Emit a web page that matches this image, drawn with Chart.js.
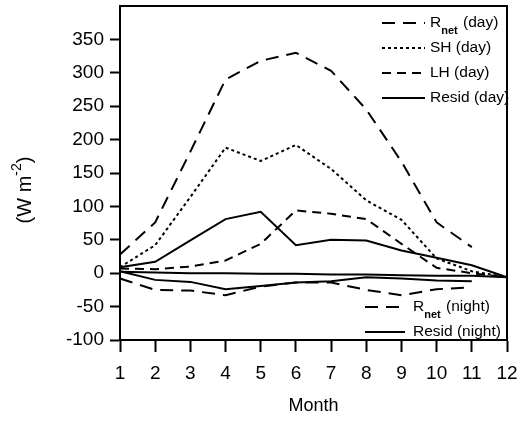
<!DOCTYPE html>
<html>
<head>
<meta charset="utf-8">
<script src="https://cdn.jsdelivr.net/npm/chart.js@4/dist/chart.umd.min.js"></script>
<style>
  html, body { margin: 0; padding: 0; background: #fff; }
  #wrap { width: 523px; height: 424px; }
</style>
</head>
<body>
<div id="wrap"><canvas id="fluxChart" width="523" height="424"></canvas></div>
<script>
// --- data (W m-2 per month) ---
const months = ['1', '2', '3', '4', '5', '6', '7', '8', '9', '10', '11', '12'];
const yTicks = [-100, -50, 0, 50, 100, 150, 200, 250, 300, 350];

const rnetDay = [28, 76, 182, 290, 318, 330, 303, 245, 167, 76, 39];
const shDay = [9, 42, 114, 188, 168, 192, 156, 109, 80, 22, 3, -6];
const lhDay = [7, 6, 10, 19, 44, 94, 89, 81, 44, 8, 0, -6];
const residDay = [9, 17, 49, 81, 92, 42, 50, 49, 34, 23, 12, -6];
const rnetNight = [-8, -25, -26, -33, -20, -14, -14, -25, -33, -24, -21];
const residNight = [3, -10, -13, -24, -19, -14, -12, -6, -8, -11, -12];
const flatLine = [2, 1, 0, 0, -1, -1, -2, -2, -3, -4, -4, -6]; // unlabeled line near zero

const FONT = "'Liberation Sans', Arial, sans-serif";

// line styles
const longDash = [13, 8];
const midDash = [9, 6];
const dotDash = [3, 3];

function series(label, data, dash, legendGroup) {
    return {
        label: label,
        data: data,
        borderColor: '#000',
        borderWidth: 2,
        borderDash: dash,
        pointRadius: 0,
        fill: false,
        tension: 0,
        legendGroup: legendGroup
    };
}

// legend drawn by hand: top-right group and bottom-right group, "net" as subscript
const handLegend = {
    id: 'handLegend',
    afterDraw(chart) {
        const ctx = chart.ctx;
        const area = chart.chartArea;
        ctx.save();
        // frame round the plot
        ctx.strokeStyle = '#000';
        ctx.lineWidth = 2;
        ctx.setLineDash([]);
        ctx.strokeRect(area.left, area.top, area.right - area.left, area.bottom - area.top);

        const groups = {
            top: { x0: 382, x1: 425, tx: 430, y: 23, step: 25 },
            bottom: { x0: 365, x1: 405, tx: 413, y: 307, step: 25 }
        };
        const counters = { top: 0, bottom: 0 };

        chart.data.datasets.forEach(ds => {
            if (!ds.legendGroup) return;
            const g = groups[ds.legendGroup];
            const y = g.y + counters[ds.legendGroup] * g.step;
            counters[ds.legendGroup]++;

            ctx.strokeStyle = '#000';
            ctx.lineWidth = 2;
            ctx.setLineDash(ds.borderDash || []);
            ctx.beginPath();
            ctx.moveTo(g.x0, y);
            ctx.lineTo(g.x1, y);
            ctx.stroke();
            ctx.setLineDash([]);

            ctx.fillStyle = '#000';
            ctx.textBaseline = 'middle';
            ctx.textAlign = 'left';
            let x = g.tx;
            if (ds.label.startsWith('Rnet')) {
                ctx.font = '15.5px ' + FONT;
                ctx.fillText('R', x, y);
                x += ctx.measureText('R').width;
                ctx.font = 'bold 11px ' + FONT;
                ctx.fillText('net', x, y + 8);
                x += ctx.measureText('net').width + 1;
                ctx.font = '15.5px ' + FONT;
                ctx.fillText(ds.label.slice(4), x, y);
            } else {
                ctx.font = '15.5px ' + FONT;
                ctx.fillText(ds.label, x, y);
            }
        });

        // y axis title (W m-2) with superscript, rotated
        ctx.translate(25, 190);
        ctx.rotate(-Math.PI / 2);
        const a = '(W m';
        const b = '-2';
        const c = ')';
        ctx.font = '20px ' + FONT;
        const wa = ctx.measureText(a).width;
        const wc = ctx.measureText(c).width;
        ctx.font = '14px ' + FONT;
        const wb = ctx.measureText(b).width;
        let x = -(wa + wb + wc) / 2;
        ctx.textBaseline = 'middle';
        ctx.font = '20px ' + FONT;
        ctx.fillText(a, x, 0);
        x += wa;
        ctx.font = '14px ' + FONT;
        ctx.fillText(b, x, -8);
        x += wb;
        ctx.font = '20px ' + FONT;
        ctx.fillText(c, x, 0);
        ctx.restore();
    }
};

const ctx = document.getElementById('fluxChart').getContext('2d');
new Chart(ctx, {
    type: 'line',
    data: {
        labels: months,
        datasets: [
            series('Rnet (day)', rnetDay, longDash, 'top'),
            series('SH (day)', shDay, dotDash, 'top'),
            series('LH (day)', lhDay, midDash, 'top'),
            series('Resid (day)', residDay, [], 'top'),
            series('Rnet (night)', rnetNight, longDash, 'bottom'),
            series('Resid (night)', residNight, [], 'bottom'),
            series('', flatLine, [], null)
        ]
    },
    options: {
        responsive: false,
        animation: false,
        layout: { padding: { left: 0, right: 16, top: 6, bottom: 0 } },
        plugins: {
            legend: { display: false },
            tooltip: { enabled: false }
        },
        scales: {
            x: {
                offset: false,
                afterFit: s => { s.height = 84; s.paddingLeft = 0; s.paddingRight = 0; },
                grid: { drawOnChartArea: false, tickLength: 12, tickColor: '#000', tickWidth: 2 },
                border: { color: '#000', width: 2 },
                ticks: { color: '#000', font: { family: FONT, size: 19 }, padding: 10, maxRotation: 0, autoSkip: false },
                title: { display: true, text: 'Month', color: '#000', font: { family: FONT, size: 18 }, padding: { top: 0, bottom: 7 } }
            },
            y: {
                min: -100,
                max: 400,
                afterFit: s => { s.width = 120; s.paddingTop = 0; s.paddingBottom = 0; },
                afterBuildTicks: s => { s.ticks = yTicks.map(v => ({ value: v })); },
                grid: { drawOnChartArea: false, tickLength: 10, tickColor: '#000', tickWidth: 2 },
                border: { color: '#000', width: 2 },
                ticks: { color: '#000', font: { family: FONT, size: 19 }, padding: 6 }
            }
        }
    },
    plugins: [handLegend]
});
</script>
</body>
</html>
